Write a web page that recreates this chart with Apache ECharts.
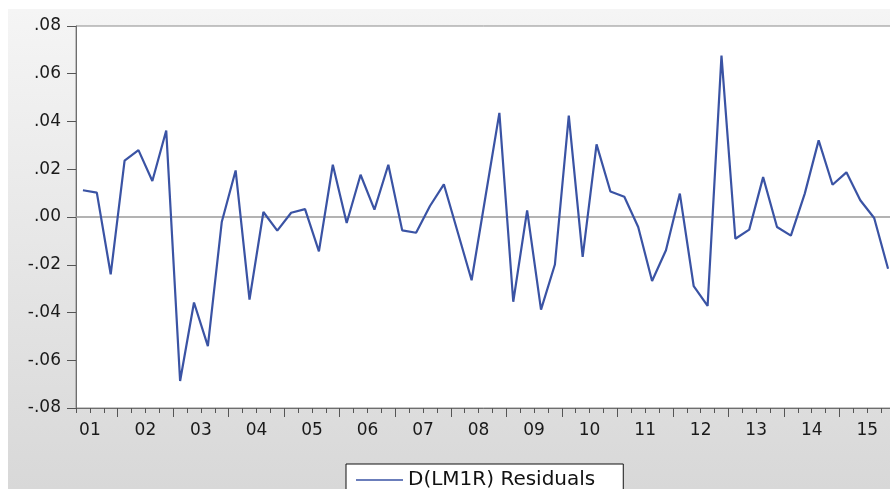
<!DOCTYPE html>
<html>
<head>
<meta charset="utf-8">
<script src="https://cdn.jsdelivr.net/npm/echarts@6/dist/echarts.min.js"></script>
<style>
  html, body { margin: 0; padding: 0; background: #fff; }
  #chart {
    width: 890px; height: 489px;
    background: linear-gradient(#f5f5f5, #d8d8d8) 8px 9px / 882px 480px no-repeat, #fff;
  }
</style>
</head>
<body>
<div id="chart"></div>
<script>
// Quarterly sample, 2001Q2 - 2015Q4
const quarters = [
  '2001Q2','2001Q3','2001Q4',
  '2002Q1','2002Q2','2002Q3','2002Q4',
  '2003Q1','2003Q2','2003Q3','2003Q4',
  '2004Q1','2004Q2','2004Q3','2004Q4',
  '2005Q1','2005Q2','2005Q3','2005Q4',
  '2006Q1','2006Q2','2006Q3','2006Q4',
  '2007Q1','2007Q2','2007Q3','2007Q4',
  '2008Q1','2008Q2','2008Q3','2008Q4',
  '2009Q1','2009Q2','2009Q3','2009Q4',
  '2010Q1','2010Q2','2010Q3','2010Q4',
  '2011Q1','2011Q2','2011Q3','2011Q4',
  '2012Q1','2012Q2','2012Q3','2012Q4',
  '2013Q1','2013Q2','2013Q3','2013Q4',
  '2014Q1','2014Q2','2014Q3','2014Q4',
  '2015Q1','2015Q2','2015Q3','2015Q4'
];

// D(LM1R) regression residuals
const residuals = [
  0.0112, 0.0102, -0.0240,
  0.0236, 0.0280, 0.0151, 0.0362,
  -0.0687, -0.0358, -0.0541, -0.0021,
  0.0195, -0.0346, 0.0021, -0.0057,
  0.0018, 0.0033, -0.0144, 0.0219,
  -0.0025, 0.0177, 0.0031, 0.0219,
  -0.0056, -0.0066, 0.0046, 0.0137,
  -0.0064, -0.0265, 0.0086, 0.0436,
  -0.0355, 0.0028, -0.0388, -0.0199,
  0.0425, -0.0167, 0.0304, 0.0107,
  0.0085, -0.0042, -0.0268, -0.0139,
  0.0098, -0.0290, -0.0372, 0.0676,
  -0.0091, -0.0053, 0.0167, -0.0042,
  -0.0078, 0.0098, 0.0321, 0.0135,
  0.0187, 0.0070, -0.0004, -0.0217
];

// Year tick labels
const yearLabels = ['01','02','03','04','05','06','07','08','09','10','11','12','13','14','15'];

const seriesName = 'D(LM1R) Residuals';

// Time axis in quarter units: 2001Q1 occupies [0,1], so 2001Q2 is [1,2].
const firstSlot = 1;            // 2001Q2
const lastSlot = firstSlot + quarters.length;  // end of 2015Q4
const points = residuals.map((v, i) => [firstSlot + i + 0.5, v]);

const quarterTicks = [];
for (let t = firstSlot; t <= lastSlot; t++) quarterTicks.push(t);
const yearTicks = [];
for (let t = 4; t <= lastSlot; t += 4) yearTicks.push(t);
// each year label sits at the middle of its calendar year
const yearCenters = yearLabels.map((_, k) => 2 + 4 * k);

const font = 'DejaVu Sans';

const chart = echarts.init(document.getElementById('chart'), null, { renderer: 'canvas' });
chart.setOption({
  animation: false,
  backgroundColor: 'transparent',
  grid: {
    left: 76, top: 26, width: 819, height: 382,
    outerBoundsMode: 'none',
    show: true, backgroundColor: '#ffffff',
    borderColor: '#8c8c8c', borderWidth: 1
  },
  xAxis: [
    {
      type: 'value', min: firstSlot, max: lastSlot, position: 'bottom',
      axisLine: { show: true, onZero: false, lineStyle: { color: '#6e6e6e', width: 1 } },
      axisTick: { show: true, inside: false, length: 5, customValues: quarterTicks,
                  lineStyle: { color: '#555', width: 1 } },
      axisLabel: {
        show: true, customValues: yearCenters, margin: 14,
        fontFamily: font, fontSize: 17, color: '#1a1a1a',
        formatter: v => yearLabels[Math.round((v - 2) / 4)]
      },
      splitLine: { show: false }
    },
    {
      type: 'value', min: firstSlot, max: lastSlot, position: 'bottom', offset: 0,
      axisLine: { show: false, onZero: false },
      axisTick: { show: true, inside: false, length: 9, customValues: yearTicks,
                  lineStyle: { color: '#555', width: 1 } },
      axisLabel: { show: false },
      splitLine: { show: false }
    }
  ],
  yAxis: {
    type: 'value', min: -0.08, max: 0.08, interval: 0.02,
    axisLine: { show: true, onZero: false, lineStyle: { color: '#6e6e6e', width: 1 } },
    axisTick: { show: true, inside: false, length: 9, lineStyle: { color: '#555' } },
    axisLabel: {
      margin: 15, fontFamily: font, fontSize: 17, color: '#1a1a1a',
      formatter: v => v.toFixed(2).replace('0.', '.')
    },
    splitLine: { show: false }
  },
  legend: {
    data: [{ name: seriesName, icon: 'rect' }],
    left: 346, top: 464,
    orient: 'horizontal',
    backgroundColor: '#ffffff',
    borderColor: '#111', borderWidth: 1, borderRadius: 0,
    padding: [6, 28, 14, 10],
    itemWidth: 47, itemHeight: 1.3, itemGap: 17,
    itemStyle: { color: '#3a53a4', borderWidth: 0 },
    textStyle: { fontFamily: font, fontSize: 20, color: '#111' }
  },
  series: [{
    name: seriesName,
    type: 'line',
    xAxisIndex: 0,
    data: points,
    symbol: 'none',
    lineStyle: { color: '#3a53a4', width: 2.2 },
    itemStyle: { color: '#3a53a4' },
    markLine: {
      silent: true, symbol: ['none', 'none'],
      label: { show: false },
      lineStyle: { color: '#9a9a9a', width: 1.5, type: 'solid' },
      data: [{ yAxis: 0 }],
      z: 1
    }
  }]
});
</script>
</body>
</html>
